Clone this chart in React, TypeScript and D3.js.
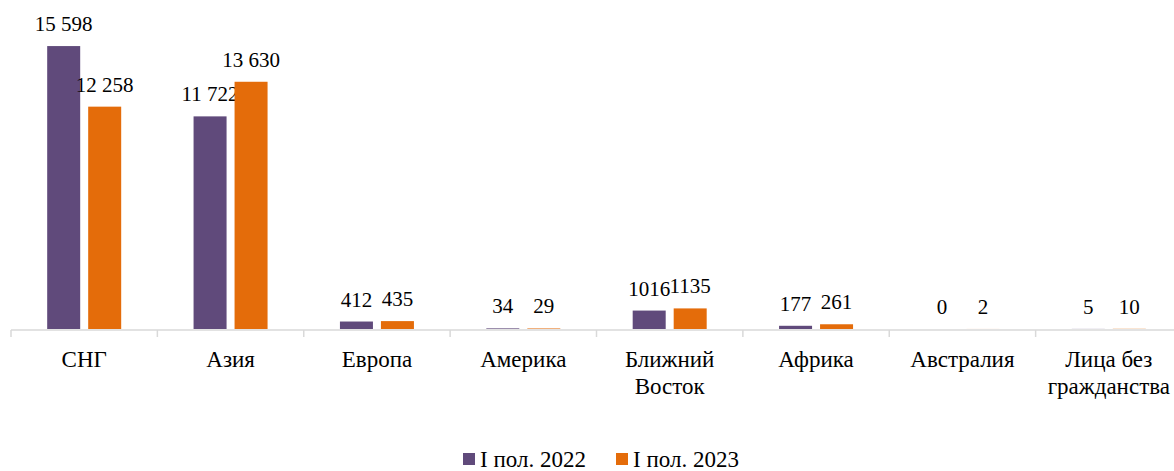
import React from "react";
import * as d3 from "d3";

const categories = [
  "СНГ",
  "Азия",
  "Европа",
  "Америка",
  "Ближний Восток",
  "Африка",
  "Австралия",
  "Лица без гражданства",
];
const seriesNames = ["I пол. 2022", "I пол. 2023"];
const values2022 = [15598, 11722, 412, 34, 1016, 177, 0, 5];
const values2023 = [12258, 13630, 435, 29, 1135, 261, 2, 10];
const colors = ["#604A7B", "#E46C0A"];

const width = 1174;
const height = 471;
const baseline = 329;
const font = "Liberation Serif";

// "15 598" style for large values, plain for the rest
const fmt = (v: number) => (v >= 10000 ? d3.format(",")(v).replace(",", " ") : String(v));

// greedy wrap by character count
const wrap = (s: string, max = 10) => {
  const lines: string[] = [];
  let cur = "";
  s.split(" ").forEach((w) => {
    const next = cur ? cur + " " + w : w;
    if (cur && next.length > max) {
      lines.push(cur);
      cur = w;
    } else cur = next;
  });
  lines.push(cur);
  return lines;
};

const x0 = d3.scaleBand().domain(categories).range([11, 1182]);
const step = x0.step();
const x1 = d3
  .scaleBand()
  .domain(seriesNames)
  .range([step / 2 - 37, step / 2 + 37])
  .paddingInner(0.195);
const y = d3.scaleLinear().domain([0, 18000]).range([baseline, baseline - 326.5]);

const series = [values2022, values2023];

const App = () => {
  return (
    <div style={{ position: "absolute", left: 0, top: 0 }}>
      <svg width={width} height={height} style={{ display: "block", fontFamily: font }}>
        {/* axis */}
        <line x1={11} x2={width} y1={baseline + 1} y2={baseline + 1} stroke="#D9D9D9" strokeWidth={1.5} />
        {d3.range(categories.length + 1).map((i) => (
          <line
            key={"t" + i}
            x1={11 + i * step}
            x2={11 + i * step}
            y1={baseline + 1}
            y2={baseline + 8}
            stroke="#D9D9D9"
            strokeWidth={1.5}
          />
        ))}

        {categories.map((c, ci) => (
          <g key={c} transform={`translate(${x0(c)},0)`}>
            {series.map((vals, si) => {
              const v = vals[ci];
              const bx = x1(seriesNames[si])!;
              return (
                <g key={si}>
                  <rect
                    x={bx}
                    y={y(v)}
                    width={x1.bandwidth()}
                    height={baseline - y(v)}
                    fill={colors[si]}
                  />
                  <text
                    x={bx + x1.bandwidth() / 2}
                    y={y(v) - 15}
                    textAnchor="middle"
                    fontSize={21}
                    fill="#000"
                    style={{ fontFamily: font }}
                  >
                    {fmt(v)}
                  </text>
                </g>
              );
            })}
            <text
              x={step / 2}
              y={367}
              textAnchor="middle"
              fontSize={23}
              fill="#000"
              style={{ fontFamily: font }}
            >
              {wrap(c).map((ln, li) => (
                <tspan key={li} x={step / 2} dy={li === 0 ? 0 : 27}>
                  {ln}
                </tspan>
              ))}
            </text>
          </g>
        ))}

        {/* legend */}
        {seriesNames.map((s, i) => {
          const lx = [463, 616][i];
          return (
            <g key={s}>
              <rect x={lx} y={453} width={12} height={12} fill={colors[i]} />
              <text x={lx + 17} y={467} fontSize={23} fill="#000" style={{ fontFamily: font }}>
                {s}
              </text>
            </g>
          );
        })}
      </svg>
    </div>
  );
};

export default App;
